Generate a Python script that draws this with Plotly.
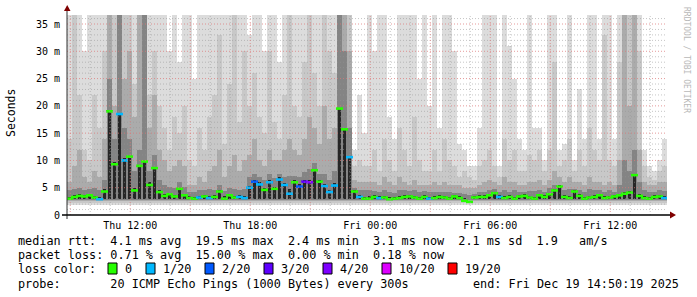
import numpy as np
import pandas as pd
import plotly.graph_objects as go

# ---------------- data (milliseconds, one value per 15-minute column) ----------------
START = "2025-12-18 08:50:19"
END = "2025-12-19 14:50:19"
STEP_MINUTES = 15

median_ms = [
    3.0, 3.3, 3.5, 3.4, 3.6, 3.2, 2.9, 4.3, 19.0, 9.3, 18.5, 10.0,
    10.7, 4.5, 9.0, 9.8, 5.5, 8.6, 4.2, 3.5, 3.8, 3.4, 4.8, 3.6,
    3.1, 3.0, 3.2, 3.4, 3.1, 3.3, 4.3, 3.0, 3.6, 3.2, 3.3, 3.1,
    5.0, 6.1, 5.6, 4.6, 6.0, 4.8, 6.5, 5.5, 3.9, 6.0, 5.2, 6.1,
    6.0, 8.2, 6.1, 5.3, 4.2, 5.4, 19.5, 15.7, 10.6, 4.3, 3.3, 3.0,
    3.0, 3.3, 3.1, 3.2, 2.9, 3.0, 3.1, 3.3, 3.4, 3.2, 3.0, 3.3,
    3.0, 3.1, 3.3, 3.2, 3.0, 3.4, 3.1, 2.6, 2.4, 3.2, 3.3, 3.3,
    3.6, 4.0, 3.3, 3.1, 3.3, 3.0, 3.4, 3.5, 3.2, 3.0, 3.6, 3.3,
    3.8, 4.5, 5.2, 3.3, 3.1, 4.3, 3.5, 3.0, 3.2, 3.3, 3.6, 3.1,
    3.2, 3.4, 3.6, 3.9, 4.1, 7.3, 3.5, 3.1, 3.0, 3.3, 3.4, 3.1,
]

loss_count = [
    0, 0, 0, 0, 0, 0, 1, 0, 0, 0, 1, 1,
    0, 0, 0, 0, 0, 0, 0, 0, 0, 0, 0, 0,
    0, 0, 1, 0, 1, 0, 0, 0, 0, 0, 1, 1,
    1, 2, 1, 0, 1, 0, 1, 1, 1, 0, 2, 3,
    4, 0, 0, 1, 1, 1, 0, 0, 1, 0, 1, 0,
    0, 0, 1, 0, 0, 0, 0, 0, 0, 0, 0, 0,
    1, 0, 0, 0, 0, 0, 0, 0, 0, 0, 0, 0,
    0, 0, 1, 0, 0, 0, 0, 0, 0, 0, 0, 0,
    0, 0, 0, 0, 0, 0, 0, 0, 0, 0, 0, 0,
    0, 0, 0, 0, 0, 0, 0, 0, 0, 0, 0, 1,
]

# smoke: upper edge of each grey band (outermost -> innermost)
smoke_max = [
    37, 37, 37, 30, 37, 37, 37, 37, 37, 37, 37, 37,
    37, 37, 37, 37, 37, 37, 37, 37, 30, 37, 28, 37,
    37, 25, 37, 37, 37, 37, 37, 37, 37, 37, 37, 37,
    33, 37, 37, 30, 37, 37, 28, 37, 37, 37, 37, 37,
    37, 37, 37, 37, 37, 37, 37, 37, 37, 12, 22, 15,
    37, 30, 37, 37, 18, 14, 37, 37, 37, 37, 25, 37,
    20, 37, 16, 37, 37, 30, 13, 12, 9, 9, 16, 37,
    37, 37, 9, 37, 31, 25, 14, 12, 37, 16, 16, 10,
    37, 37, 12, 13, 37, 10, 23, 14, 37, 37, 14, 37,
    37, 14, 37, 37, 37, 37, 37, 12, 9, 8, 10, 14,
]
smoke_p90 = [
    14, 37, 22, 12, 10, 22, 16, 30, 37, 37, 37, 37,
    37, 24, 37, 37, 22, 30, 20, 16, 12, 18, 15, 20,
    10, 9, 16, 12, 18, 22, 33, 13, 24, 37, 17, 30,
    20, 26, 18, 15, 30, 17, 14, 22, 37, 20, 18, 28,
    37, 26, 20, 37, 30, 26, 37, 37, 37, 9, 10, 9,
    9, 12, 8, 14, 10, 8, 16, 12, 9, 18, 10, 8,
    8, 12, 8, 14, 10, 9, 7, 8, 7, 6.5, 9, 10,
    12, 9, 7, 14, 10, 12, 8, 8, 11, 10, 12, 8,
    12, 28, 9, 10, 14, 8, 12, 9, 16, 12, 10, 33,
    10, 9, 28, 37, 37, 37, 30, 9, 7, 6.5, 8, 9,
]
smoke_p75 = [
    6, 9, 12, 7, 6, 8, 7, 14, 37, 20, 37, 25,
    30, 18, 37, 37, 16, 22, 12, 10, 8, 9, 10, 9,
    5.5, 5.5, 7, 6, 8, 9, 12, 7, 9, 11, 8, 10,
    11, 14, 10, 9, 12, 10, 10, 12, 14, 12, 11, 14,
    18, 16, 13, 20, 14, 16, 37, 37, 30, 6.5, 6, 6,
    6, 6, 5.5, 7, 6, 5.5, 7, 6, 5.5, 6.5, 5.5, 5.5,
    5.5, 6, 5.5, 6, 5.5, 5.5, 5.5, 5, 5, 5, 5.5, 6,
    6.5, 6, 5.5, 7, 6, 6, 5.5, 5.5, 6, 6, 6.5, 5.5,
    6.5, 8, 7, 6, 7, 6, 6, 5.5, 7, 6, 6, 5.5,
    6, 5.5, 10, 37, 20, 37, 12, 6, 5.5, 5.5, 6, 6,
]
smoke_p60 = [
    4.5, 4.8, 5.0, 4.6, 4.7, 4.9, 4.5, 6.5, 25, 14, 37, 16,
    14, 8, 12, 37, 8, 11, 6.5, 5.5, 5.2, 5.0, 6.0, 5.2,
    4.3, 4.2, 4.6, 4.5, 4.8, 4.6, 5.5, 4.4, 5.0, 4.8, 4.6, 4.8,
    7.0, 7.5, 7.0, 6.5, 7.5, 6.8, 7.5, 7.0, 7.2, 7.2, 7.0, 7.8,
    8.5, 9.5, 7.5, 7.5, 6.5, 8, 37, 30, 16, 5, 4.5, 4.5,
    4.5, 4.4, 4.2, 4.6, 4.2, 4.1, 4.5, 4.6, 4.4, 4.5, 4.2, 4.4,
    4.3, 4.3, 4.2, 4.3, 4.2, 4.1, 4.0, 3.9, 3.7, 3.9, 4.2, 4.3,
    4.6, 4.8, 4.2, 4.6, 4.3, 4.5, 4.3, 4.2, 4.4, 4.4, 4.6, 4.3,
    5.0, 5.5, 5.4, 4.6, 4.8, 4.8, 4.6, 4.2, 4.8, 4.5, 4.6, 4.2,
    4.5, 4.3, 5.5, 10, 8, 12, 6, 4.5, 4.3, 4.2, 4.5, 4.4,
]
smoke_p55 = [
    3.3, 3.6, 3.8, 3.7, 3.9, 3.5, 3.2, 4.8, 19.0, 9.8, 18.5, 10.5,
    10.7, 5.0, 9.0, 9.8, 6.0, 8.6, 4.5, 3.9, 4.1, 3.7, 5.0, 3.9,
    3.4, 3.3, 3.5, 3.7, 3.4, 3.6, 4.6, 3.4, 3.9, 3.5, 3.6, 3.4,
    5.4, 6.4, 6.0, 5.0, 6.4, 5.2, 6.9, 5.9, 4.8, 6.4, 5.6, 6.5,
    6.4, 8.2, 6.5, 5.7, 4.6, 5.8, 19.5, 15.7, 10.6, 4.6, 3.6, 3.3,
    3.4, 3.6, 3.4, 3.5, 3.2, 3.3, 3.4, 3.6, 3.7, 3.5, 3.3, 3.6,
    3.3, 3.4, 3.6, 3.5, 3.3, 3.7, 3.4, 3.1, 3.0, 3.5, 3.6, 3.6,
    3.9, 4.3, 3.6, 3.4, 3.6, 3.3, 3.7, 3.8, 3.5, 3.3, 3.9, 3.6,
    4.1, 4.8, 5.5, 3.6, 3.4, 4.6, 3.8, 3.3, 3.5, 3.6, 3.9, 3.4,
    3.5, 3.7, 3.9, 4.2, 4.4, 7.3, 3.8, 3.4, 3.3, 3.6, 3.7, 3.4,
]
# lower edge of each band (ms)
smoke_floor = [1.9, 2.2, 2.5, 2.7, 3.0]

loss_levels = [0, 1, 2, 3, 4, 10, 19]
loss_labels = ["0", "1/20", "2/20", "3/20", "4/20", "10/20", "19/20"]
loss_colors = ["#26ff00", "#00b8ff", "#0059ff", "#5e00ff", "#7e00ff", "#dd00ff", "#ff0000"]

y_ticks = [0, 5, 10, 15, 20, 25, 30, 35]
y_ticktext = ["0", "5 m", "10 m", "15 m", "20 m", "25 m", "30 m", "35 m"]
x_ticks = ["2025-12-18 12:00", "2025-12-18 18:00", "2025-12-19 00:00",
           "2025-12-19 06:00", "2025-12-19 12:00"]

legend_rows = [
    "median rtt:  4.1 ms avg  19.5 ms max  2.4 ms min  3.1 ms now  2.1 ms sd  1.9   am/s",
    "packet loss: 0.71 % avg  15.00 % max  0.00 % min  0.18 % now",
    "loss color:",
    "probe:       20 ICMP Echo Pings (1000 Bytes) every 300s",
]
end_text = "end: Fri Dec 19 14:50:19 2025"

# ---------------- layout constants (pixels) ----------------
W, H = 697, 297
L, R, T, B = 67, 30, 15, 82
PW, PH = W - L - R, H - T - B
Y_MAX = 36.65
MONO = "DejaVu Sans Mono"
FS = 11.8


def px(x):
    return (x - L) / PW


def py(y):
    return (T + PH - y) / PH


start = pd.Timestamp(START)
end = pd.Timestamp(END)
n = len(median_ms)
step = pd.Timedelta(minutes=STEP_MINUTES)
centers = [start + step * i + step / 2 for i in range(n)]
bar_w = step.total_seconds() * 1000

fig = go.Figure()

band_colors = ["#dcdcdc", "#c8c8c8", "#ababab", "#848484", "#262626"]
band_width = [1.0, 1.0, 1.0, 1.0, 0.5]
bands = [smoke_max, smoke_p90, smoke_p75, smoke_p60, smoke_p55]
for vals, floor, col, bw in zip(bands, smoke_floor, band_colors, band_width):
    v = np.array(vals, dtype=float)
    fig.add_trace(go.Bar(
        x=centers, y=np.maximum(v - floor, 0), base=floor, width=bar_w * bw,
        marker=dict(color=col, line=dict(width=0)), hoverinfo="skip",
        showlegend=False,
    ))


def loss_color(c):
    idx = 0
    for k, lv in enumerate(loss_levels):
        if c >= lv:
            idx = k
    return loss_colors[idx]


med_cols = [loss_color(c) for c in loss_count]

# grid lines as shapes above the smoke
shapes = []
for v in range(1, int(Y_MAX) + 1):
    major = v % 5 == 0
    shapes.append(dict(
        type="line", xref="paper", yref="y", x0=0, x1=1, y0=v, y1=v,
        line=dict(color="rgba(220,120,120,0.75)" if major else "rgba(150,150,150,0.55)",
                  width=1, dash="1px,2px"), layer="above"))
hour = start.ceil("h")
while hour < end:
    major = hour.hour % 3 == 0
    shapes.append(dict(
        type="line", xref="x", yref="paper", x0=hour, x1=hour, y0=0, y1=1,
        line=dict(color="rgba(220,120,120,0.75)" if major else "rgba(150,150,150,0.55)",
                  width=1, dash="1px,2px"), layer="above"))
    hour += pd.Timedelta(hours=1)

fig.add_trace(go.Scatter(
    x=centers, y=median_ms, mode="markers",
    marker=dict(symbol="line-ew", size=5, line=dict(width=2.6, color=med_cols)),
    hoverinfo="skip", showlegend=False,
))

# axes + arrows
ARROW = "#7f0000"
shapes += [
    dict(type="line", xref="paper", yref="paper", x0=px(L), x1=px(L), y0=py(219), y1=py(10),
         line=dict(color="#303030", width=1)),
    dict(type="line", xref="paper", yref="paper", x0=px(62), x1=px(672), y0=py(215), y1=py(215),
         line=dict(color="black", width=1.5)),
    dict(type="path", xref="paper", yref="paper",
         path=f"M {px(64)},{py(11)} L {px(70.5)},{py(11)} L {px(67.2)},{py(5)} Z",
         fillcolor=ARROW, line=dict(width=0)),
    dict(type="path", xref="paper", yref="paper",
         path=f"M {px(670)},{py(211.5)} L {px(670)},{py(218.5)} L {px(676)},{py(215)} Z",
         fillcolor=ARROW, line=dict(width=0)),
]

annotations = []
NB = "\u00a0"
row_y = [241, 255, 269, 284]
for txt, yy in zip(legend_rows, row_y):
    annotations.append(dict(
        text=txt.replace(" ", NB), xref="paper", yref="paper", x=px(16), y=py(yy),
        xanchor="left", yanchor="middle", showarrow=False,
        font=dict(family=MONO, size=FS, color="black")))
annotations.append(dict(
    text=end_text.replace(" ", NB), xref="paper", yref="paper", x=px(681), y=py(284),
    xanchor="right", yanchor="middle", showarrow=False,
    font=dict(family=MONO, size=FS, color="black")))

box_x = [108, 146, 205, 264, 323, 382, 448]
for bx, lab, col in zip(box_x, loss_labels, loss_colors):
    shapes.append(dict(type="rect", xref="paper", yref="paper",
                       x0=px(bx), x1=px(bx + 9), y0=py(274), y1=py(263),
                       fillcolor=col, line=dict(color="black", width=1)))
    annotations.append(dict(
        text=lab, xref="paper", yref="paper", x=px(bx + 15), y=py(269),
        xanchor="left", yanchor="middle", showarrow=False,
        font=dict(family=MONO, size=FS, color="black")))

annotations.append(dict(
    text="Seconds", xref="paper", yref="paper", x=px(11), y=py(113),
    xanchor="center", yanchor="middle", textangle=-90, showarrow=False,
    font=dict(family=MONO, size=11.5, color="black")))
annotations.append(dict(
    text="RRDTOOL / TOBI OETIKER", xref="paper", yref="paper", x=px(686), y=py(60),
    xanchor="center", yanchor="middle", textangle=90, showarrow=False,
    font=dict(family=MONO, size=8, color="#b8b8b8")))

fig.update_layout(
    width=W, height=H, margin=dict(l=L, r=R, t=T, b=B, pad=0),
    paper_bgcolor="white", plot_bgcolor="white",
    barmode="overlay", bargap=0,
    shapes=shapes, annotations=annotations,
    xaxis=dict(type="date", range=[start, end], showgrid=False, zeroline=False,
               showline=False, tickvals=x_ticks, tickformat="%a %H:%M",
               ticks="", ticklabelstandoff=3,
               tickfont=dict(family=MONO, size=10, color="black")),
    yaxis=dict(range=[0, Y_MAX], showgrid=False, zeroline=False, showline=False,
               tickvals=y_ticks, ticktext=y_ticktext, ticks="",
               ticklabelstandoff=6,
               tickfont=dict(family=MONO, size=10, color="black")),
)

fig.write_html("out.html")
